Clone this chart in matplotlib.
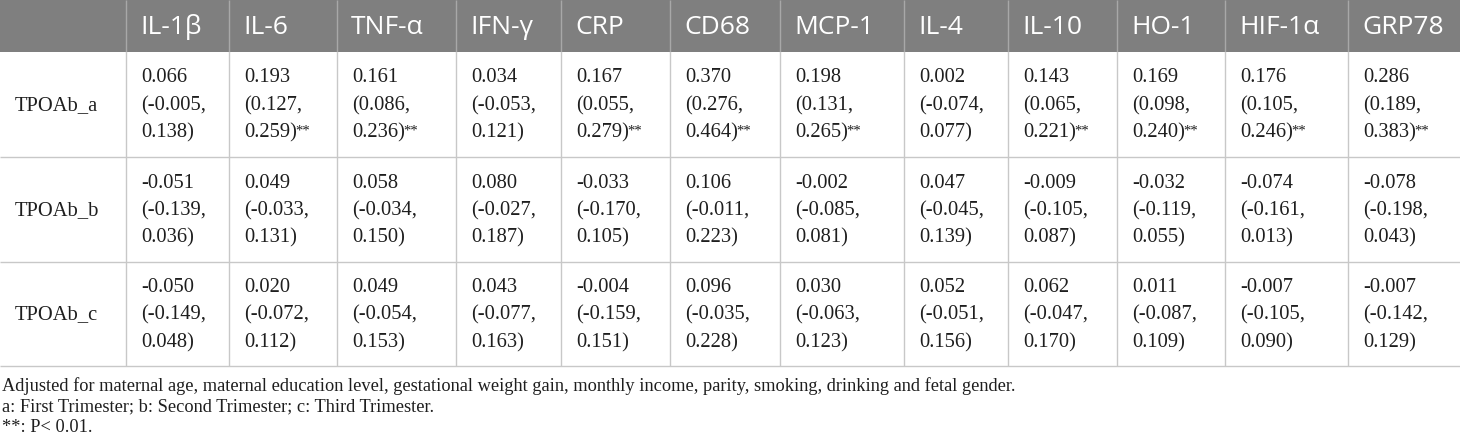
import matplotlib
matplotlib.use("Agg")
from matplotlib import pyplot as plt
from matplotlib.patches import Rectangle

# table content
markers = ['IL-1β', 'IL-6', 'TNF-α', 'IFN-γ', 'CRP', 'CD68', 'MCP-1',
           'IL-4', 'IL-10', 'HO-1', 'HIF-1α', 'GRP78']
row_labels = ['TPOAb_a', 'TPOAb_b', 'TPOAb_c']

est_a = [0.066, 0.193, 0.161, 0.034, 0.167, 0.370, 0.198, 0.002, 0.143, 0.169, 0.176, 0.286]
lo_a = [-0.005, 0.127, 0.086, -0.053, 0.055, 0.276, 0.131, -0.074, 0.065, 0.098, 0.105, 0.189]
hi_a = [0.138, 0.259, 0.236, 0.121, 0.279, 0.464, 0.265, 0.077, 0.221, 0.240, 0.246, 0.383]
sig_a = [0, 1, 1, 0, 1, 1, 1, 0, 1, 1, 1, 1]

est_b = [-0.051, 0.049, 0.058, 0.080, -0.033, 0.106, -0.002, 0.047, -0.009, -0.032, -0.074, -0.078]
lo_b = [-0.139, -0.033, -0.034, -0.027, -0.170, -0.011, -0.085, -0.045, -0.105, -0.119, -0.161, -0.198]
hi_b = [0.036, 0.131, 0.150, 0.187, 0.105, 0.223, 0.081, 0.139, 0.087, 0.055, 0.013, 0.043]
sig_b = [0] * 12

est_c = [-0.050, 0.020, 0.049, 0.043, -0.004, 0.096, 0.030, 0.052, 0.062, 0.011, -0.007, -0.007]
lo_c = [-0.149, -0.072, -0.054, -0.077, -0.159, -0.035, -0.063, -0.051, -0.047, -0.087, -0.105, -0.142]
hi_c = [0.048, 0.112, 0.153, 0.163, 0.151, 0.228, 0.123, 0.156, 0.170, 0.109, 0.090, 0.129]
sig_c = [0] * 12

footnotes = [
    'Adjusted for maternal age, maternal education level, gestational weight gain, '
    'monthly income, parity, smoking, drinking and fetal gender.',
    'a: First Trimester; b: Second Trimester; c: Third Trimester.',
    '**: P< 0.01.',
]

# layout (pixels)
col_edges = [0, 126, 229, 337, 456, 561, 670, 780, 904, 1008, 1117, 1225, 1348, 1460]
row_edges = [0, 52, 157, 262, 366]
line_gap = 27.5
pad_x = 15

header_bg = '#7f7f7f'
grid_col = '#c8c8c8'
ink = '#1e1e1e'
serif = ['Liberation Serif', 'DejaVu Serif']
sans = ['Open Sans', 'DejaVu Sans']

fig = plt.figure(figsize=(14.6, 4.42), dpi=100)
ax = fig.add_axes([0, 0, 1, 1])
ax.set_xlim(0, 1460)
ax.set_ylim(442, 0)
ax.axis('off')

# header band
ax.add_patch(Rectangle((0, 0), 1460, row_edges[1], color=header_bg, lw=0))
ax.vlines(col_edges[1:-1], 0, row_edges[1], color='#a8a8a8', lw=1)
for i, m in enumerate(markers):
    ax.text(col_edges[i + 1] + pad_x - 1, row_edges[1] / 2 + 1, m, color='white',
            fontsize=19, family=sans, va='center', ha='left')

# body grid
ax.hlines(row_edges[2:], 0, 1460, color=grid_col, lw=1)
ax.vlines(col_edges[1:-1], row_edges[1], row_edges[-1], color=grid_col, lw=1)

rows = [(est_a, lo_a, hi_a, sig_a), (est_b, lo_b, hi_b, sig_b), (est_c, lo_c, hi_c, sig_c)]
for r, (est, lo, hi, sig) in enumerate(rows):
    yc = (row_edges[r + 1] + row_edges[r + 2]) / 2 + 1
    ax.text(pad_x, yc, row_labels[r], fontsize=14.8, family=serif, color=ink,
            va='center', ha='left')
    for j in range(len(markers)):
        x = col_edges[j + 1] + pad_x
        lines = ['%.3f' % est[j], '(%.3f,' % lo[j], '%.3f)' % hi[j]]
        for k, s in enumerate(lines):
            t = ax.text(x, yc + (k - 1) * line_gap, s, fontsize=14.8, family=serif,
                        color=ink, va='center', ha='left')
        if sig[j]:
            ax.annotate('**', xy=(1, 0.92), xycoords=t, xytext=(-1, 0),
                        textcoords='offset points', fontsize=10.5, family=serif,
                        color=ink, va='top', ha='left')

# footnotes
for k, s in enumerate(footnotes):
    ax.text(2, 386 + k * 20.5, s, fontsize=13.2, family=serif, color=ink,
            va='center', ha='left')

fig.savefig('out.png', dpi=100)
